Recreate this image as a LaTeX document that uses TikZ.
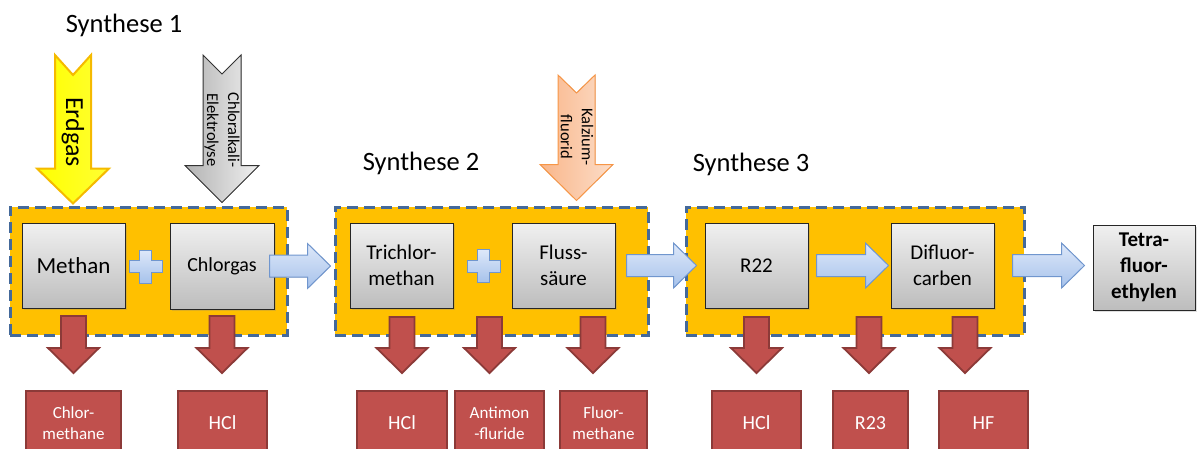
\documentclass[tikz,border=0pt]{standalone}
\usepackage{fontspec}
\setmainfont{Carlito}
\usetikzlibrary{calc,shadows}
\definecolor{grpfill}{HTML}{FFC000}
\definecolor{grpline}{HTML}{44699A}
\definecolor{gtop}{HTML}{F0F0F0}
\definecolor{gbot}{HTML}{BDBDBD}
\definecolor{btop}{HTML}{DEE8F9}
\definecolor{bbot}{HTML}{A6C2EB}
\definecolor{bline}{HTML}{7096CE}
\definecolor{redfill}{HTML}{C0504D}
\definecolor{redline}{HTML}{8C3A38}
\definecolor{yelline}{HTML}{F5BA00}
\definecolor{orleft}{HTML}{F9B68A}
\definecolor{orright}{HTML}{FCDDC8}
\definecolor{orline}{HTML}{F79646}
\newcommand\hblock[2]{\filldraw[flowarrow] let \p1=(#1), \p2=(#2) in
  (\x1,\y1+11pt) -- (\x2-23pt,\y1+11pt) -- (\x2-23pt,\y1+22.5pt) -- (\x2,\y1)
  -- (\x2-23pt,\y1-22.5pt) -- (\x2-23pt,\y1-11pt) -- (\x1,\y1-11pt) -- cycle;}
\newcommand\vblock[7]{\filldraw[#1] let \p1=(#2), \p2=(#3) in
  (\x1-#4,\y1) -- (\x1,\y1-#7) -- (\x1+#4,\y1) -- (\x1+#4,\y2+#6) -- (\x1+#5,\y2+#6)
  -- (\x1,\y2) -- (\x1-#5,\y2+#6) -- (\x1-#4,\y2+#6) -- cycle;}
\newcommand\mkplus[1]{\filldraw[flowarrow] let \p1=(#1) in
  (\x1-6pt,\y1+16.5pt) -- (\x1+6pt,\y1+16.5pt) -- (\x1+6pt,\y1+6pt) -- (\x1+16.5pt,\y1+6pt)
  -- (\x1+16.5pt,\y1-6pt) -- (\x1+6pt,\y1-6pt) -- (\x1+6pt,\y1-16.5pt) -- (\x1-6pt,\y1-16.5pt)
  -- (\x1-6pt,\y1-6pt) -- (\x1-16.5pt,\y1-6pt) -- (\x1-16.5pt,\y1+6pt) -- (\x1-6pt,\y1+6pt) -- cycle;}
\tikzset{
  grp/.style={fill=grpfill, draw=grpline, line width=3pt, dash pattern=on 11pt off 6pt,
    minimum height=128, inner sep=0},
  gbox/.style={draw=black!85, line width=1pt, top color=gtop, bottom color=gbot,
    minimum width=103, minimum height=85, align=center, inner sep=0,
    font=\fontsize{21}{26}\selectfont,
    drop shadow={opacity=0.25, shadow xshift=1.5pt, shadow yshift=-1.5pt}},
  outbox/.style={fill=redfill, draw=redline, line width=2pt, text=white, minimum height=64,
    align=center, inner sep=0, font=\fontsize{17}{21}\selectfont},
  flowarrow/.style={draw=bline, line width=1pt, top color=btop, bottom color=bbot},
  redarrow/.style={draw=redline, line width=1.8pt, fill=redfill},
  yelarrow/.style={draw=yelline, line width=2pt, left color=yellow, right color=yellow!80!white},
  grayarrow/.style={draw=black!80, line width=1pt, left color=black!30, right color=black!6},
  orarrow/.style={draw=orline, line width=1pt, left color=orleft, right color=orright},
  lbl/.style={inner sep=0, font=\fontsize{26.5}{31}\selectfont},
  vlbl/.style={inner sep=0, rotate=-90, align=center, font=\fontsize{16.5}{21}\selectfont}
}
\begin{document}
\begin{tikzpicture}[x=1pt,y=-1pt]
\useasboundingbox (0,0) rectangle (1201,448);
\clip (0,0) rectangle (1201,448);
% titles
\node[lbl] (s1) at (124,25) {Synthese 1};
\node[lbl] (s2) at (421,163) {Synthese 2};
\node[lbl] (s3) at (751,164) {Synthese 3};
% groups
\node[grp, minimum width=277] (g1) at (148.5,271) {};
\node[grp, minimum width=313] (g2) at (491.5,271) {};
\node[grp, minimum width=338] (g3) at (855,271) {};
% process boxes
\node[gbox, font=\fontsize{23}{28}\selectfont] (methan) at (73.5,265.5) {Methan};
\node[gbox, minimum width=104, minimum height=86, font=\fontsize{20}{25}\selectfont] (chlor) at (222,266) {Chlorgas};
\node[gbox] (tri) at (401.5,265.5) {Trichlor-\\methan};
\node[gbox] (fluss) at (563.5,265.5) {Fluss-\\säure};
\node[gbox] (r22) at (756.5,265.5) {R22};
\node[gbox] (dif) at (942.5,265.5) {Difluor-\\carben};
\node[gbox, minimum width=102, font=\bfseries\fontsize{21}{26}\selectfont] (tetra) at (1144,267.5) {Tetra-\\fluor-\\ethylen};
% plus signs
\coordinate (p1) at (145.5,266.5);
\coordinate (p2) at (483.5,266);
\mkplus{p1}
\mkplus{p2}
% flow arrows
\hblock{$(chlor.east)+(-5,0)$}{$(tri.west)+(-19,0)$}
\hblock{$(fluss.east)+(11,0)$}{$(r22.west)+(-8,0)$}
\hblock{$(r22.east)+(8,0)$}{$(dif.west)+(-2,0)$}
\hblock{$(dif.east)+(18,0)$}{$(tetra.west)+(-8,0)$}
% output boxes
\node[outbox, minimum width=95] (o1) at (73.5,423) {Chlor-\\methane};
\node[outbox, minimum width=89, font=\fontsize{20}{24}\selectfont] (o2) at (222.5,423) {HCl};
\node[outbox, minimum width=90, font=\fontsize{20}{24}\selectfont] (o3) at (402,423) {HCl};
\node[outbox, minimum width=89] (o4) at (499.5,423) {Antimon\\-fluride};
\node[outbox, minimum width=87] (o5) at (603.5,423) {Fluor-\\methane};
\node[outbox, minimum width=89, font=\fontsize{20}{24}\selectfont] (o6) at (756.5,423) {HCl};
\node[outbox, minimum width=75, font=\fontsize{20}{24}\selectfont] (o7) at (870.5,423) {R23};
\node[outbox, minimum width=89, font=\fontsize{20}{24}\selectfont] (o8) at (983.5,423) {HF};
% red arrows
\coordinate (r1) at (73.5,316);
\coordinate (r2) at (222,316);
\coordinate (r3) at (402,317);
\coordinate (r4) at (489.5,317);
\coordinate (r5) at (593,317);
\coordinate (r6) at (756.5,317);
\coordinate (r7) at (869,317);
\coordinate (r8) at (965,317);
\vblock{redarrow}{r1}{$(o1.north)+(0,-17)$}{12.5pt}{25.5pt}{25pt}{0pt}
\vblock{redarrow}{r2}{$(o2.north)+(0,-17)$}{12.5pt}{25.5pt}{25pt}{0pt}
\vblock{redarrow}{r3}{$(o3.north)+(0,-17)$}{12.5pt}{25.5pt}{25pt}{0pt}
\vblock{redarrow}{r4}{$(o4.north)+(0,-17)$}{12.5pt}{25.5pt}{25pt}{0pt}
\vblock{redarrow}{r5}{$(o5.north)+(0,-17)$}{12.5pt}{25.5pt}{25pt}{0pt}
\vblock{redarrow}{r6}{$(o6.north)+(0,-17)$}{12.5pt}{25.5pt}{25pt}{0pt}
\vblock{redarrow}{r7}{$(o7.north)+(0,-17)$}{12.5pt}{25.5pt}{25pt}{0pt}
\vblock{redarrow}{r8}{$(o8.north)+(0,-17)$}{12.5pt}{25.5pt}{25pt}{0pt}
% input arrows
\coordinate (erd) at (73,55);
\coordinate (chl) at (222,55);
\coordinate (kal) at (576.5,75);
\vblock{yelarrow}{erd}{$(g1.north)+(0,-2)$}{18pt}{36pt}{35pt}{20pt}
\vblock{grayarrow}{chl}{$(g1.north)+(0,-3)$}{19pt}{37pt}{37pt}{19pt}
\vblock{orarrow}{kal}{$(g2.north)+(0,-5)$}{18.5pt}{36.5pt}{36pt}{18pt}
\node[vlbl, font=\fontsize{26}{30}\selectfont] (erdt) at (73,132) {Erdgas};
\node[vlbl] (chlt) at (222,130) {Chloralkali-\\Elektrolyse};
\node[vlbl] (kalt) at (577,137) {Kalzium-\\fluorid};
\end{tikzpicture}
\end{document}
